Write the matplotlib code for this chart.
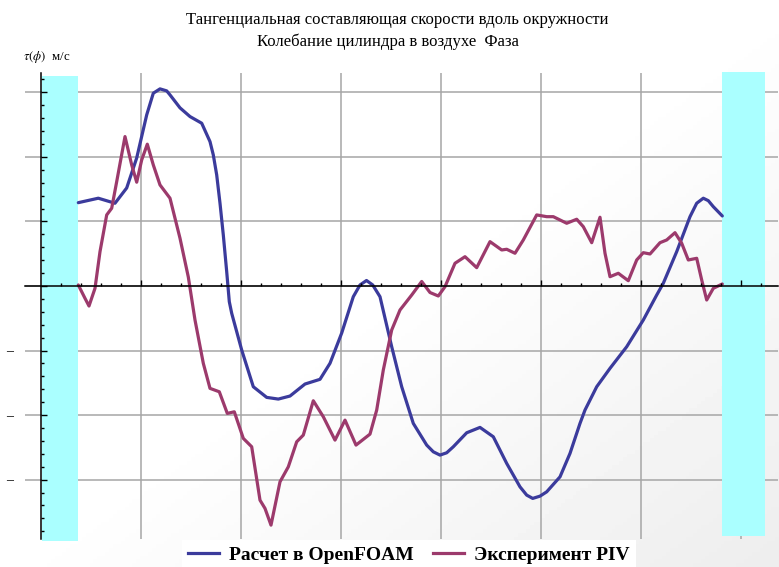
import numpy as np
import matplotlib
matplotlib.use('Agg')
import matplotlib.pyplot as plt
from matplotlib.patches import Rectangle

plt.rcParams['font.family'] = ['Liberation Serif', 'DejaVu Serif']
plt.rcParams['mathtext.fontset'] = 'stix'

# tangential velocity along the cylinder surface
x_foam = [0.373, 0.573, 0.74, 0.857, 0.957, 1.057, 1.123, 1.19, 1.257, 1.29,
          1.39, 1.49, 1.607, 1.69, 1.723, 1.757, 1.79, 1.823, 1.857, 1.883,
          1.907, 2.007, 2.123, 2.257, 2.373, 2.49, 2.64, 2.79, 2.89, 3.007,
          3.123, 3.19, 3.255, 3.317, 3.39, 3.507, 3.607, 3.723, 3.857, 3.923,
          3.99, 4.057, 4.123, 4.257, 4.39, 4.523, 4.657, 4.79, 4.857, 4.917,
          4.99, 5.057, 5.19, 5.29, 5.39, 5.44, 5.557, 5.69, 5.857, 6.023,
          6.157, 6.223, 6.357, 6.49, 6.557, 6.623, 6.673, 6.723, 6.813]
y_foam = [1.291, 1.360, 1.282, 1.519, 1.984, 2.651, 2.987, 3.054, 3.023, 2.961,
          2.760, 2.625, 2.522, 2.237, 2.031, 1.721, 1.282, 0.791, 0.222, -0.243,
          -0.423, -0.992, -1.561, -1.726, -1.752, -1.705, -1.519, -1.446, -1.198, -0.729,
          -0.166, 0.016, 0.085, 0.016, -0.166, -0.941, -1.561, -2.129, -2.465, -2.569,
          -2.620, -2.584, -2.491, -2.274, -2.191, -2.336, -2.749, -3.112, -3.240, -3.291,
          -3.256, -3.189, -2.957, -2.594, -2.129, -1.922, -1.561, -1.276, -0.941, -0.527,
          -0.140, 0.042, 0.532, 1.074, 1.282, 1.360, 1.322, 1.229, 1.085]

x_piv = [0.373, 0.44, 0.48, 0.54, 0.59, 0.657, 0.707, 0.757, 0.84, 0.907,
         0.957, 1.007, 1.063, 1.123, 1.19, 1.29, 1.39, 1.473, 1.54, 1.623,
         1.69, 1.783, 1.863, 1.933, 2.023, 2.107, 2.19, 2.24, 2.30, 2.39,
         2.473, 2.557, 2.623, 2.723, 2.823, 2.94, 3.04, 3.15, 3.29, 3.357,
         3.423, 3.507, 3.59, 3.707, 3.807, 3.89, 3.973, 4.04, 4.14, 4.24,
         4.357, 4.49, 4.607, 4.657, 4.74, 4.823, 4.957, 5.057, 5.123, 5.257,
         5.357, 5.423, 5.507, 5.59, 5.64, 5.69, 5.773, 5.873, 5.957, 6.023,
         6.09, 6.19, 6.257, 6.34, 6.407, 6.473, 6.557, 6.607, 6.657, 6.723,
         6.813]
y_piv = [0.016, -0.191, -0.31, -0.036, 0.532, 1.101, 1.205, 1.617, 2.315, 1.876,
         1.608, 1.953, 2.197, 1.876, 1.566, 1.360, 0.740, 0.140, -0.527, -1.198,
         -1.586, -1.639, -1.974, -1.949, -2.361, -2.491, -3.318, -3.446, -3.705, -3.034,
         -2.802, -2.414, -2.310, -1.778, -2.026, -2.388, -2.078, -2.465, -2.295, -1.922,
         -1.302, -0.682, -0.372, -0.140, 0.070, -0.101, -0.155, -0.011, 0.352, 0.454,
         0.284, 0.687, 0.558, 0.569, 0.507, 0.713, 1.101, 1.074, 1.074, 0.972,
         1.034, 0.919, 0.671, 1.065, 0.507, 0.144, 0.197, 0.082, 0.403, 0.516,
         0.496, 0.671, 0.713, 0.826, 0.662, 0.403, 0.429, 0.093, -0.217, -0.036,
         0.031]

title1 = 'Тангенциальная составляющая скорости вдоль окружности'
title2 = 'Колебание цилиндра в воздухе  Фаза'
label_foam = 'Расчет в OpenFOAM'
label_piv = 'Эксперимент PIV'

blue = '#3b3b9c'
purple = '#9c3a6c'
cyan = '#aaffff'

fig = plt.figure(figsize=(7.79, 5.67), dpi=100)

# faint slide background, greyer towards the bottom right corner
bg = fig.add_axes([0, 0, 1, 1], zorder=-10)
u, v = np.meshgrid(np.linspace(0, 1, 200), np.linspace(0, 1, 150))
shade = 1 - 0.07 * np.clip((u + v - 1.0) / 1.0, 0, 1)
bg.imshow(shade, cmap='gray', vmin=0, vmax=1, aspect='auto',
          extent=[0, 1, 1, 0])
bg.axis('off')

ax = fig.add_axes([25 / 779, 28 / 567, 753 / 779, 466 / 567])
ax.patch.set_alpha(0)
ax.set_xlim(-0.16, 7.37)
ax.set_ylim(-3.92, 3.30)

ax.set_xticks(np.arange(1, 8))
ax.set_xticks(np.arange(0.2, 7.3, 0.2), minor=True)
ax.set_yticks(np.arange(-3, 4))
ax.set_yticks(np.arange(-3.8, 3.3, 0.2), minor=True)

# grid drawn by hand so it can sit under the cyan bands
for val in ax.get_xticks():
    ax.axvline(val, color='#a6a6a6', lw=1.1, zorder=0.5)
for val in ax.get_yticks():
    ax.axhline(val, color='#a6a6a6', lw=1.1, zorder=0.5)

ax.plot(x_foam, y_foam, color=blue, lw=2.3, solid_joinstyle='round',
        solid_capstyle='round', zorder=2)
ax.plot(x_piv, y_piv, color=purple, lw=2.3, solid_joinstyle='round',
        solid_capstyle='round', zorder=2)

ax.add_patch(Rectangle((0.005, -3.95), 0.365, 7.21, facecolor=cyan,
                       edgecolor='none', zorder=1.8, clip_on=False))
ax.add_patch(Rectangle((6.813, -3.87), 0.424, 7.18, facecolor=cyan,
                       edgecolor='none', zorder=1.8, clip_on=False))

for s in ['top', 'right']:
    ax.spines[s].set_visible(False)
ax.spines['left'].set_position(('data', 0))
ax.spines['bottom'].set_position(('data', 0))
for s in ['left', 'bottom']:
    ax.spines[s].set_linewidth(1.1)
    ax.spines[s].set_zorder(3)
ax.set_axisbelow(False)

ax.tick_params(which='both', direction='in', width=1.0, colors='black')
ax.tick_params(which='major', length=4.5)
ax.tick_params(which='minor', length=2.5)
ax.set_xticklabels([])
ax.set_yticklabels(['–' if val < 0 else '' for val in ax.get_yticks()], fontsize=10)
ax.tick_params(axis='y', which='major', pad=20)

fig.text(397 / 779, 1 - 20 / 567, title1, ha='center', va='center', fontsize=12)
fig.text(388 / 779, 1 - 42 / 567, title2, ha='center', va='center', fontsize=12)
fig.text(23 / 779, 1 - 57 / 567, r'$\tau(\phi)$  м/с', ha='left', va='center',
         fontsize=9.3)

handles = [plt.Line2D([], [], color=blue, lw=2.3),
           plt.Line2D([], [], color=purple, lw=2.3)]
leg = fig.legend(handles, [label_foam, label_piv], loc='center',
                 bbox_to_anchor=(409 / 779, 1 - 555 / 567), ncol=2,
                 frameon=True, facecolor='white', edgecolor='none',
                 framealpha=1, fancybox=False, handlelength=1.6,
                 handletextpad=0.5, columnspacing=1.0, borderpad=0.3,
                 prop={'weight': 'bold', 'size': 14})

fig.savefig('out.png', dpi=100)
